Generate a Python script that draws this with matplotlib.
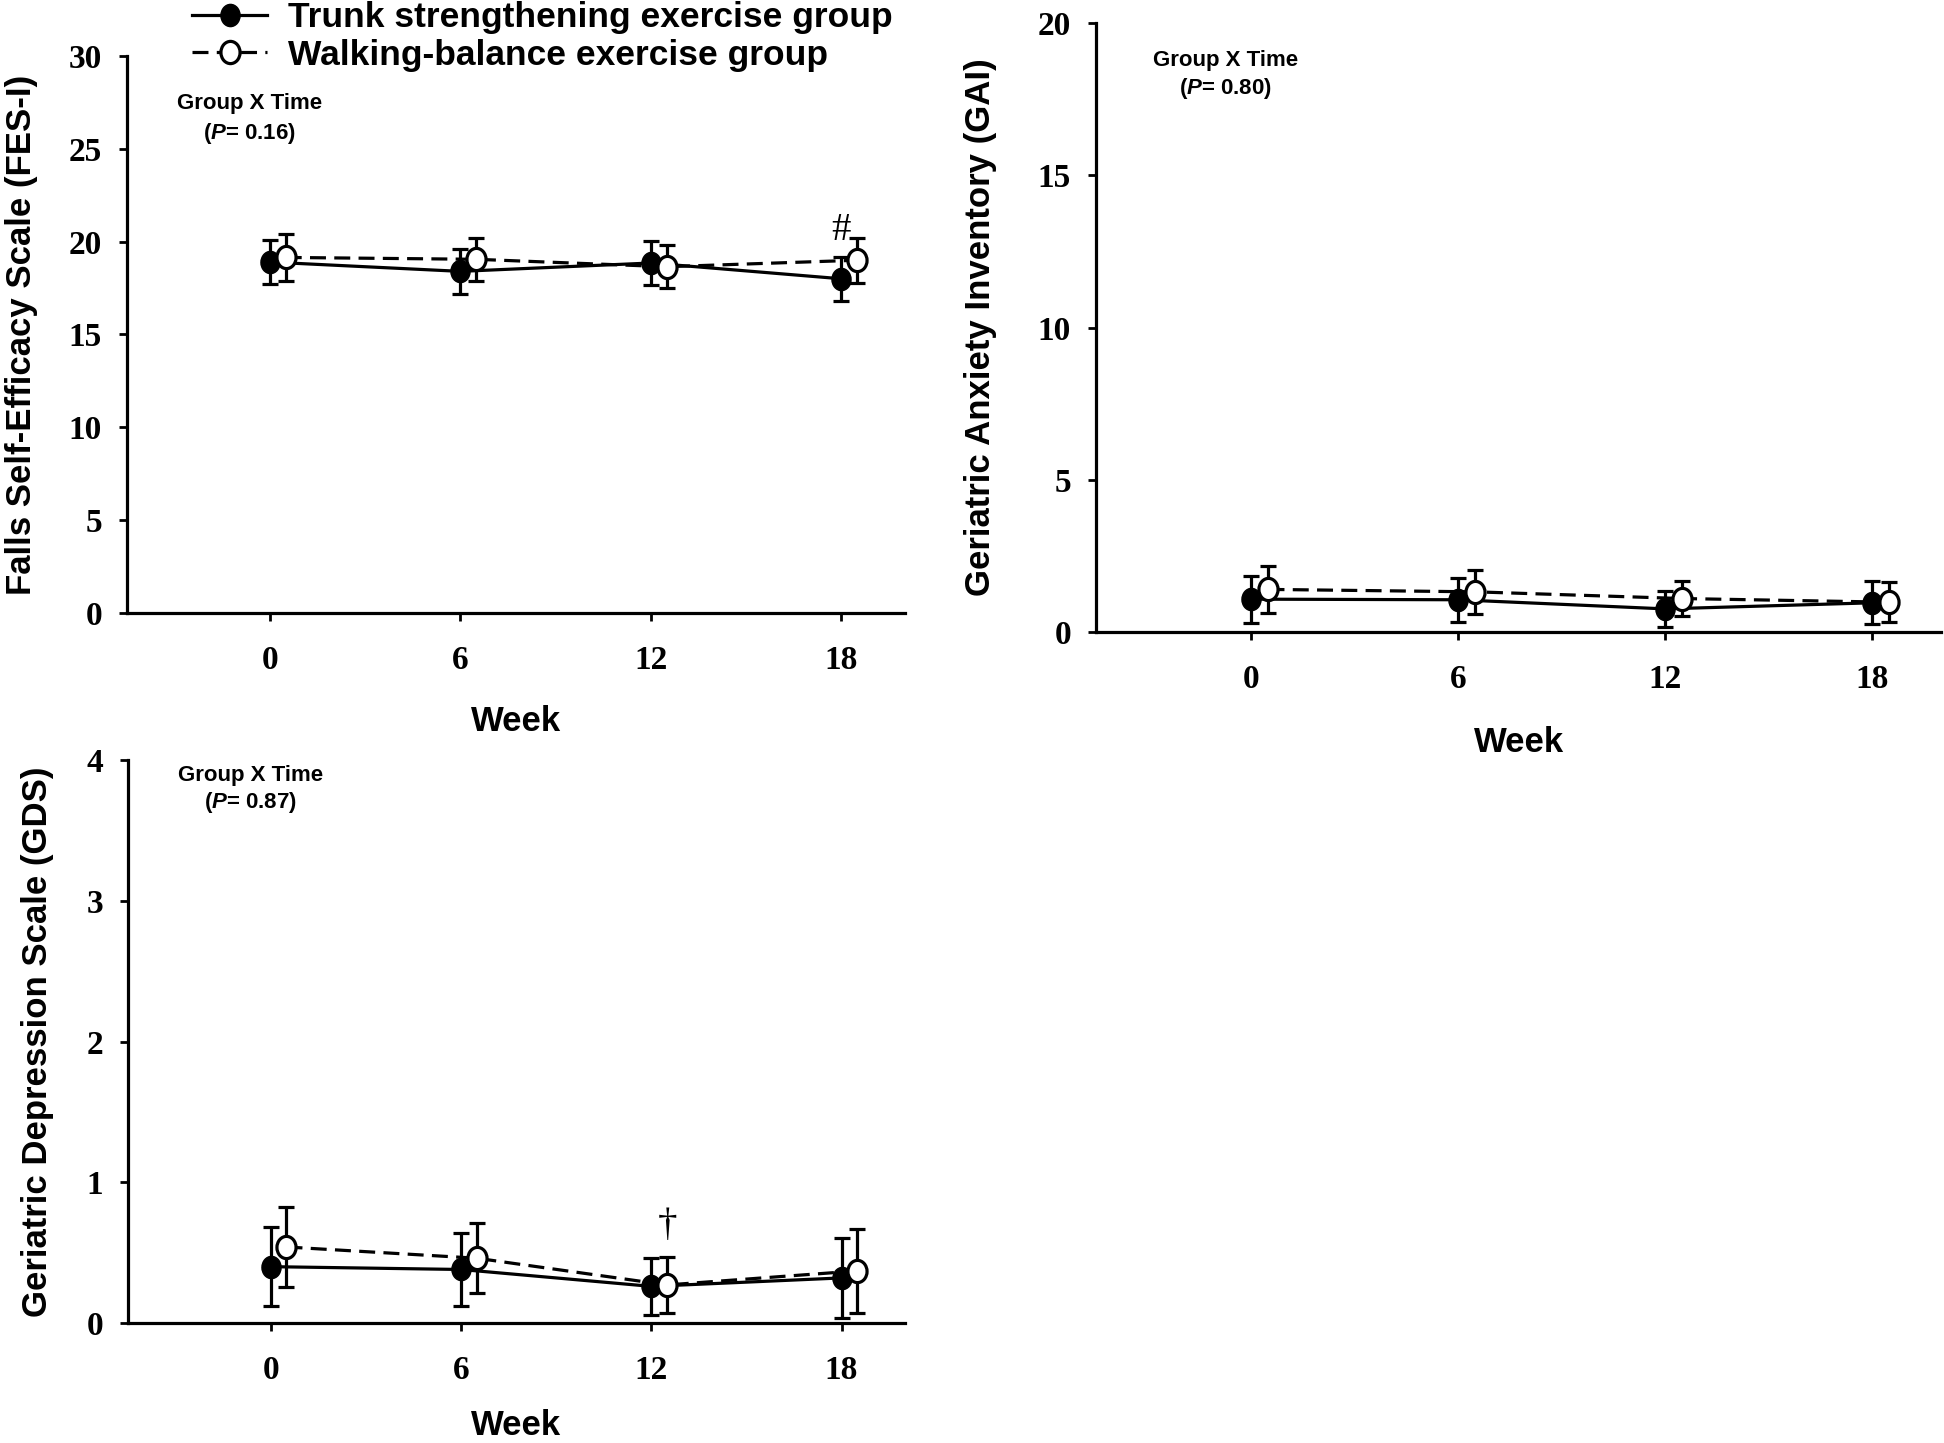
import numpy as np
import matplotlib
matplotlib.use("Agg")
import matplotlib.pyplot as plt
from matplotlib.path import Path
from matplotlib.transforms import Affine2D

# ---------------- data ----------------
weeks = [0, 6, 12, 18]
week_labels = ["0", "6", "12", "18"]

fes_trunk = [18.9, 18.4, 18.85, 18.0]
fes_trunk_se = [1.2, 1.2, 1.2, 1.2]
fes_walk = [19.15, 19.05, 18.65, 19.0]
fes_walk_se = [1.25, 1.15, 1.15, 1.2]

gai_trunk = [1.08, 1.06, 0.76, 0.96]
gai_trunk_se = [0.77, 0.73, 0.58, 0.70]
gai_walk = [1.40, 1.32, 1.10, 0.98]
gai_walk_se = [0.76, 0.72, 0.56, 0.66]

gds_trunk = [0.40, 0.38, 0.26, 0.32]
gds_trunk_se = [0.28, 0.26, 0.205, 0.285]
gds_walk = [0.54, 0.46, 0.27, 0.37]
gds_walk_se = [0.285, 0.25, 0.20, 0.30]

labels = ["Trunk strengthening exercise group", "Walking-balance exercise group"]
pvals = ["0.16", "0.80", "0.87"]

# ---------------- style ----------------
plt.rcParams["mathtext.fontset"] = "custom"
plt.rcParams["mathtext.it"] = "Liberation Sans:italic:bold"
plt.rcParams["mathtext.rm"] = "Liberation Sans:bold"

SANS = "Liberation Sans"
SERIF = "Liberation Serif"
LW = 2.3
offset = 0.5

ell = Path.unit_circle().transformed(Affine2D().scale(0.86, 1.0))

fig = plt.figure(figsize=(19.44, 14.43), dpi=100)

ax1 = fig.add_axes([0.0653, 0.5752, 0.4002, 0.386])
ax2 = fig.add_axes([0.5638, 0.562, 0.4347, 0.422])
ax3 = fig.add_axes([0.0658, 0.0832, 0.3997, 0.390])


def draw(ax, t, tse, w, wse, ylim, yticks, ylabel, pval, ptxt_pos, ylabelpad, xlabelpad):
    x_w = [x + offset for x in weeks]
    l1 = ax.errorbar(weeks, t, yerr=tse, color="black", lw=LW, ls="-",
                     marker=ell, ms=16, mfc="black", mec="black",
                     capsize=6, capthick=LW, elinewidth=LW, zorder=3)
    l2 = ax.errorbar(x_w, w, yerr=wse, color="black", lw=LW, ls=(0, (5, 2.6)),
                     marker=ell, ms=16, mfc="white", mec="black", mew=2.3,
                     capsize=6, capthick=LW, elinewidth=LW, zorder=4)
    ax.set_xlim(-4.5, 20)
    ax.set_ylim(*ylim)
    ax.set_xticks(weeks)
    ax.set_xticklabels(week_labels)
    ax.set_yticks(yticks)
    for s in ["top", "right"]:
        ax.spines[s].set_visible(False)
    for s in ["left", "bottom"]:
        ax.spines[s].set_linewidth(LW)
    ax.tick_params(axis="both", direction="out", length=6, width=2)
    ax.tick_params(axis="x", pad=17)
    ax.tick_params(axis="y", pad=12)
    for lab in ax.get_xticklabels() + ax.get_yticklabels():
        lab.set_fontfamily(SERIF)
        lab.set_fontweight("bold")
        lab.set_fontsize(24)
    ax.set_xlabel("Week", fontfamily=SANS, fontweight="bold", fontsize=25, labelpad=xlabelpad)
    ax.set_ylabel(ylabel, fontfamily=SANS, fontweight="bold", fontsize=25, labelpad=ylabelpad)
    ax.text(ptxt_pos[0], ptxt_pos[1], "Group X Time", transform=ax.transAxes,
            ha="center", va="center", fontfamily=SANS, fontweight="bold", fontsize=16)
    ax.text(ptxt_pos[0], ptxt_pos[2], "($P$= " + pval + ")", transform=ax.transAxes,
            ha="center", va="center", fontfamily=SANS, fontweight="bold", fontsize=16)
    return l1, l2


l1, l2 = draw(ax1, fes_trunk, fes_trunk_se, fes_walk, fes_walk_se, (0, 30),
              [0, 5, 10, 15, 20, 25, 30], "Falls Self-Efficacy Scale (FES-I)",
              pvals[0], (0.158, 0.914, 0.86), 22, 21)
draw(ax2, gai_trunk, gai_trunk_se, gai_walk, gai_walk_se, (0, 20),
     [0, 5, 10, 15, 20], "Geriatric Anxiety Inventory (GAI)",
     pvals[1], (0.153, 0.939, 0.892), 29, 22)
draw(ax3, gds_trunk, gds_trunk_se, gds_walk, gds_walk_se, (0, 4),
     [0, 1, 2, 3, 4], "Geriatric Depression Scale (GDS)",
     pvals[2], (0.158, 0.973, 0.924), 23, 17)

ax1.text(weeks[3], 20.6, "#", ha="center", va="center", fontfamily=SERIF, fontsize=28)
ax3.text(weeks[2] + offset, 0.69, "\u2020", ha="center", va="center", fontfamily=SERIF, fontsize=28)

fig.legend([l1.lines[0], l2.lines[0]], labels, loc="upper left",
           bbox_to_anchor=(0.099, 0.999), frameon=False, numpoints=1,
           prop={"family": SANS, "weight": "bold", "size": 25.5},
           handlelength=2.1, handletextpad=0.6, labelspacing=0.12,
           borderpad=0.0, borderaxespad=0.0)

fig.savefig("out.png", dpi=100)
